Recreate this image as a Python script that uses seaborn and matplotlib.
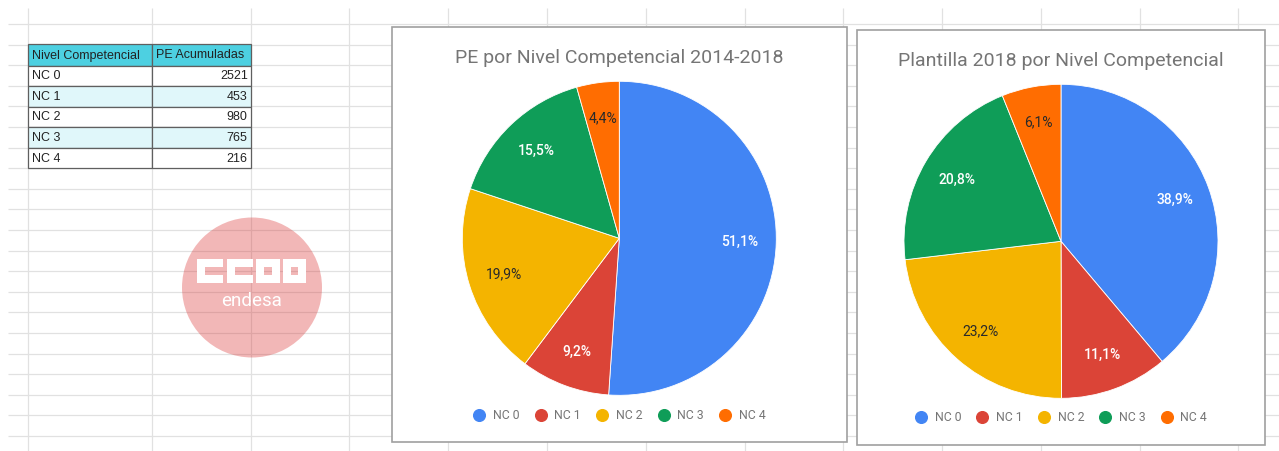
import matplotlib
matplotlib.use("Agg")
import matplotlib.pyplot as plt
from matplotlib.patches import Rectangle, Circle
from matplotlib.lines import Line2D
import seaborn as sns
import numpy as np

# ---------------- data ----------------
categories = ["NC 0", "NC 1", "NC 2", "NC 3", "NC 4"]
pe_acumuladas = [2521, 453, 980, 765, 216]
plantilla_2018_pct = [38.9, 11.1, 23.2, 20.8, 6.1]
table_headers = ["Nivel Competencial", "PE Acumuladas"]
title_pe = "PE por Nivel Competencial 2014-2018"
title_plantilla = "Plantilla 2018 por Nivel Competencial"
logo_word = "endesa"

sns.set_theme(style="white")
plt.rcParams['font.family'] = ['Roboto', 'DejaVu Sans']

palette = sns.color_palette(["#4285F4", "#DB4437", "#F4B400", "#0F9D58", "#FF6D01"])
label_colors = ["white", "white", "#2a2a2a", "white", "#2a2a2a"]
label_weights = ["medium", "medium", "normal", "medium", "normal"]

W, H = 1279, 451
fig = plt.figure(figsize=(W / 100, H / 100), dpi=100)
fig.patch.set_facecolor("white")
bg = fig.add_axes([0, 0, 1, 1])
bg.set_xlim(0, W)
bg.set_ylim(H, 0)
bg.axis("off")

# ---------------- spreadsheet grid ----------------
grid_c = "#e1e1e1"
row_lines = 24.0 + 20.6 * np.arange(21)
col_lines = [28.3, 152.3] + list(250.7 + 98.76 * np.arange(11))
bg.hlines(row_lines, 8, W, color=grid_c, lw=0.9, zorder=1)
bg.vlines(col_lines, 8, H, color=grid_c, lw=0.9, zorder=1)

# ---------------- table ----------------
tx = [28.3, 152.3, 250.7]
ty = [44.3, 65.7, 86.0, 106.7, 127.3, 147.7, 168.3]
row_fill = ["#4dd0e1", "white", "#e0f7fa", "white", "#e0f7fa", "white"]
for i in range(6):
    for j in range(2):
        bg.add_patch(Rectangle((tx[j], ty[i]), tx[j + 1] - tx[j], ty[i + 1] - ty[i],
                               facecolor=row_fill[i], edgecolor="#5f5f5f", lw=0.9, zorder=2))
tfont = dict(family=["Liberation Sans", "DejaVu Sans"], fontsize=9.0, color="#222222", zorder=3)
for j, h in enumerate(table_headers):
    bg.text(tx[j] + 3.4, (ty[0] + ty[1]) / 2 + 0.5, h, ha="left", va="center", **tfont)
for i, (c, v) in enumerate(zip(categories, pe_acumuladas)):
    yc = (ty[i + 1] + ty[i + 2]) / 2 + 0.5
    bg.text(tx[0] + 3.4, yc, c, ha="left", va="center", **tfont)
    bg.text(tx[2] - 3.0, yc, str(v), ha="right", va="center", **tfont)

# ---------------- logo ----------------
bg.add_patch(Circle((252.0, 287.5), 70, facecolor=(0.86, 0.2, 0.2), alpha=0.35, lw=0, zorder=2))
lw_c = "white"
y0, y1, t = 259.3, 282.7, 7.4
def block(x0, x1, closed):
    bg.add_patch(Rectangle((x0, y0), x1 - x0, t, fc=lw_c, lw=0, zorder=3))
    bg.add_patch(Rectangle((x0, y1 - t), x1 - x0, t, fc=lw_c, lw=0, zorder=3))
    bg.add_patch(Rectangle((x0, y0), 8.0, y1 - y0, fc=lw_c, lw=0, zorder=3))
    if closed:
        bg.add_patch(Rectangle((x1 - 8.0, y0), 8.0, y1 - y0, fc=lw_c, lw=0, zorder=3))
block(196.7, 223.0, False)
block(226.7, 252.7, False)
block(255.7, 280.3, True)
block(283.3, 306.0, True)
bg.text(251.5, 306.5, logo_word, ha="center", va="baseline", fontsize=13.5,
        color="white", zorder=3)

# ---------------- chart boxes ----------------
bg.add_patch(Rectangle((392, 27), 455, 415, facecolor="white", edgecolor="#a0a0a0", lw=1.2, zorder=4))
bg.add_patch(Rectangle((857, 30), 408, 415, facecolor="white", edgecolor="#a0a0a0", lw=1.2, zorder=4))

bg.text(619.3, 63.3, title_pe, ha="center", va="baseline", fontsize=14.0, color="#757575", zorder=5)
bg.text(1061.0, 66.0, title_plantilla, ha="center", va="baseline", fontsize=14.0, color="#757575", zorder=5)


def pct_fmt(p):
    return f"{p:.1f}%".replace(".", ",")


def draw_pie(values, cx, cy, r, legend_y):
    ax = fig.add_axes([(cx - r) / W, (H - (cy + r)) / H, 2 * r / W, 2 * r / H])
    wedges, texts, autotexts = ax.pie(values, colors=palette, startangle=90, counterclock=False,
                                      autopct=pct_fmt, pctdistance=0.77,
                                      wedgeprops=dict(edgecolor="white", linewidth=0.6),
                                      textprops=dict(fontsize=10.0))
    for at, c, w in zip(autotexts, label_colors, label_weights):
        at.set_color(c)
        at.set_fontweight(w)
    ax.set_xlim(-1, 1)
    ax.set_ylim(-1, 1)
    ax.set_aspect("equal")
    ax.axis("off")
    handles = [Line2D([], [], marker="o", linestyle="none", markersize=8.4,
                      markerfacecolor=palette[i], markeredgecolor=palette[i]) for i in range(len(categories))]
    ax.legend(handles, categories, loc="center", bbox_to_anchor=(cx, legend_y),
              bbox_transform=bg.transData, ncol=5, frameon=False, fontsize=8.8,
              handlelength=1.0, handletextpad=0.62, columnspacing=1.23, labelcolor="#757575")
    return ax


draw_pie(pe_acumuladas, 619.3, 238.3, 157, 415.7)
draw_pie(plantilla_2018_pct, 1061.0, 241.3, 157, 417.7)

fig.savefig("out.png", dpi=100)
